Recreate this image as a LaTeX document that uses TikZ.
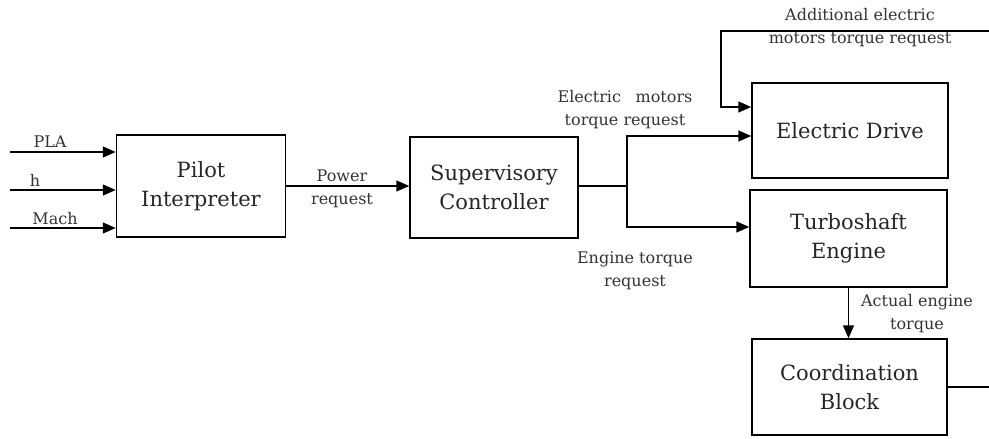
\documentclass[tikz,border=0pt]{standalone}
\usepackage{fontspec}
\setmainfont{DejaVu Serif}
\usetikzlibrary{arrows.meta}
\begin{document}
\begin{tikzpicture}[x=1pt,y=-1pt,
  blk/.style={draw,line width=1.5pt,rectangle,inner sep=0pt,align=center,
    font=\fontsize{21}{29}\selectfont,text=black!85},
  lbl/.style={align=center,inner sep=0pt,font=\fontsize{16}{23}\selectfont,text=black!80},
  arr/.style={line width=1.5pt,-{Triangle[length=13pt,width=11pt]}},
  ln/.style={line width=1.5pt}]
\useasboundingbox (0,0) rectangle (989,439);
% blocks
\node[blk,minimum width=169pt,minimum height=102pt] (PI) at (201,186) {Pilot\\Interpreter};
\node[blk,minimum width=168pt,minimum height=101pt] (SC) at (494,187.5) {Supervisory\\Controller};
\node[blk,minimum width=196pt,minimum height=95pt] (ED) at (850,130.5) {Electric Drive};
\node[blk,minimum width=197pt,minimum height=97pt] (TE) at (848.5,238.5) {Turboshaft\\Engine};
\node[blk,minimum width=195pt,minimum height=96pt] (CB) at (849.5,387) {Coordination\\Block};
% inputs
\coordinate (iPLA) at (10,152);
\coordinate (ih) at (10,190);
\coordinate (iMach) at (10,228);
\draw[arr] (iPLA) -- (PI.west |- iPLA);
\draw[arr] (ih) -- (PI.west |- ih);
\draw[arr] (iMach) -- (PI.west |- iMach);
\node[lbl] (lPLA) at (50,142) {PLA};
\node[lbl] (lh) at (35,180) {h};
\node[lbl] (lMach) at (55,219) {Mach};
% power request
\coordinate (pr) at (0,186);
\draw[arr] (PI.east |- pr) -- (SC.west |- pr);
\node[lbl] (lPR) at (342,188.5) {Power\\request};
% split
\coordinate (sp) at (627,186);
\coordinate (edy) at (0,136);
\coordinate (tey) at (0,227);
\draw[ln] (SC.east |- sp) -- (sp);
\draw[arr] (sp) |- (ED.west |- edy);
\draw[arr] (sp) |- (TE.west |- tey);
\node[lbl] (lEM) at (625,110) {Electric\hspace{0.6em} motors\\torque request};
\node[lbl] (lET) at (635,271) {Engine torque\\request};
% additional
\coordinate (addR) at (989,31);
\coordinate (addL) at (721,31);
\coordinate (addy) at (0,107);
\draw[arr] (addR) -- (addL) |- (ED.west |- addy);
\node[lbl] (lAdd) at (860,27.5) {Additional electric\\motors torque request};
% actual engine torque
\draw[arr] (TE.south) -- (TE.south |- CB.north);
\node[lbl] (lAct) at (917,313.5) {Actual engine\\torque};
% output
\coordinate (out) at (989,387);
\draw[ln] (CB.east) -- (out);
\end{tikzpicture}
\end{document}
